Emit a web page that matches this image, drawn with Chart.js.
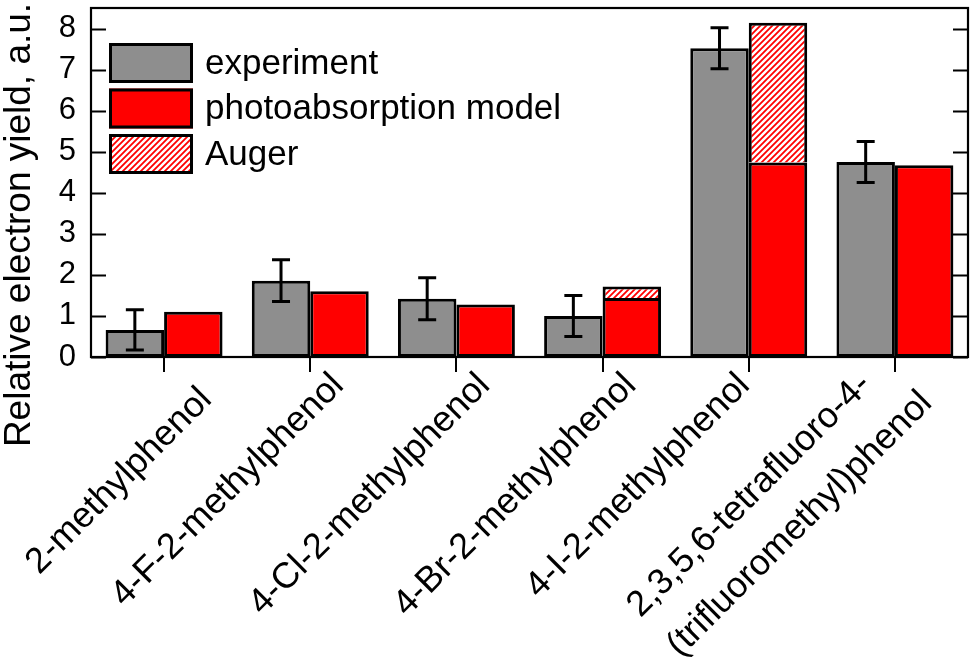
<!DOCTYPE html>
<html>
<head>
<meta charset="utf-8">
<script src="https://cdn.jsdelivr.net/npm/chart.js@4.4.0/dist/chart.umd.min.js"></script>
<style>
  html, body { margin: 0; padding: 0; background: #fff; }
  #wrap { width: 972px; height: 672px; position: relative; }
</style>
</head>
<body>
<div id="wrap"><canvas id="c" width="972" height="672"></canvas></div>
<script>
// Compounds (multi-line names are split into lines)
const compounds = [
  ['2-methylphenol'],
  ['4-F-2-methylphenol'],
  ['4-Cl-2-methylphenol'],
  ['4-Br-2-methylphenol'],
  ['4-I-2-methylphenol'],
  ['2,3,5,6-tetrafluoro-4-', '(trifluoromethyl)phenol']
];
// Relative electron yield, a.u.
const experiment      = [0.66, 1.86, 1.42, 1.00, 7.52, 4.75];
const experimentErr   = [0.49, 0.51, 0.51, 0.50, 0.50, 0.50];
const photoabsorption = [1.10, 1.60, 1.28, 1.44, 4.74, 4.67];
const auger           = [null, null, null, 0.28, 3.40, null];
const yTickValues     = [0, 1, 2, 3, 4, 5, 6, 7, 8];

const FONT = '"Liberation Sans", Arial, Helvetica, sans-serif';
const GREY = '#8e8e8e';
const RED = '#ff0000';

function makeHatch() {
  const p = document.createElement('canvas');
  p.width = 6; p.height = 6;
  const g = p.getContext('2d');
  g.fillStyle = '#ffffff';
  g.fillRect(0, 0, 6, 6);
  g.strokeStyle = RED;
  g.lineWidth = 1.8;
  g.beginPath();
  g.moveTo(-1, 7); g.lineTo(7, -1);
  g.moveTo(-1, 1); g.lineTo(1, -1);
  g.moveTo(5, 7); g.lineTo(7, 5);
  g.stroke();
  return g.createPattern(p, 'repeat');
}
const hatch = makeHatch();

// Frame, inward y ticks, error bars, legend, axis title and rotated compound names
const decorations = {
  id: 'decorations',
  afterDatasetsDraw(chart) {
    const { ctx, chartArea: a, scales } = chart;
    const y = scales.y;
    ctx.save();
    // error bars on the experiment bars
    const meta = chart.getDatasetMeta(0);
    ctx.strokeStyle = '#000';
    ctx.lineWidth = 3;
    meta.data.forEach((bar, i) => {
      const x = bar.x;
      const top = y.getPixelForValue(experiment[i] + experimentErr[i]);
      const bot = y.getPixelForValue(experiment[i] - experimentErr[i]);
      ctx.beginPath();
      ctx.moveTo(x, top); ctx.lineTo(x, bot);
      ctx.moveTo(x - 9, top); ctx.lineTo(x + 9, top);
      ctx.moveTo(x - 9, bot); ctx.lineTo(x + 9, bot);
      ctx.stroke();
    });
    // inward ticks on both vertical sides
    ctx.lineWidth = 2;
    yTickValues.forEach(v => {
      const py = Math.round(y.getPixelForValue(v)) + 0.5;
      ctx.beginPath();
      ctx.moveTo(a.left, py); ctx.lineTo(a.left + 15, py);
      ctx.moveTo(a.right, py); ctx.lineTo(a.right - 15, py);
      ctx.stroke();
    });
    // plot frame
    ctx.lineWidth = 2.2;
    ctx.strokeRect(a.left, a.top, a.right - a.left, a.bottom - a.top);
    ctx.restore();
  },
  afterDraw(chart) {
    const { ctx, chartArea: a, scales } = chart;
    const x = scales.x;
    ctx.save();
    // legend
    const items = chart.data.datasets;
    const boxX = a.left + 18, boxW = 84, boxH = 40, rowStep = 45.5;
    items.forEach((ds, i) => {
      const by = a.top + 35 + i * rowStep;
      ctx.fillStyle = ds.backgroundColor;
      ctx.fillRect(boxX, by, boxW, boxH);
      ctx.strokeStyle = '#000';
      ctx.lineWidth = 3;
      ctx.strokeRect(boxX + 1.5, by + 1.5, boxW - 3, boxH - 3);
      ctx.fillStyle = '#000';
      ctx.font = '35px ' + FONT;
      ctx.textAlign = 'left';
      ctx.textBaseline = 'middle';
      ctx.fillText(ds.label, boxX + boxW + 12, by + boxH / 2 + 1);
    });
    // y axis title
    ctx.save();
    ctx.translate(20, 225);
    ctx.rotate(-Math.PI / 2);
    ctx.font = '37px ' + FONT;
    ctx.fillStyle = '#000';
    ctx.textAlign = 'center';
    ctx.textBaseline = 'middle';
    ctx.fillText('Relative electron yield, a.u.', 0, 0);
    ctx.restore();
    // compound names, rotated 45 degrees, ending just right of each tick
    const nudge = [[0, 20], [0, 0], [0, 0], [0, 0], [-23, -23], [-10, 15]];
    const lineStep = 56;
    const c45 = Math.SQRT1_2;
    ctx.font = '36px ' + FONT;
    ctx.fillStyle = '#000';
    ctx.textAlign = 'left';
    ctx.textBaseline = 'alphabetic';
    compounds.forEach((lines, i) => {
      const tx = x.getPixelForValue(i);
      const [al, pe] = nudge[i];
      const ax = tx + 35 + al * c45 + pe * c45;
      const ay = a.bottom + 30 - al * c45 + pe * c45;
      const maxW = Math.max(...lines.map(l => ctx.measureText(l).width));
      ctx.save();
      ctx.translate(ax, ay);
      ctx.rotate(-Math.PI / 4);
      lines.forEach((l, j) => {
        ctx.fillText(l, -maxW, -(lines.length - 1 - j) * lineStep);
      });
      ctx.restore();
    });
    ctx.restore();
  }
};

const noPad = s => { s.paddingTop = 0; s.paddingBottom = 0; s.paddingLeft = 0; s.paddingRight = 0; };

new Chart(document.getElementById('c'), {
  type: 'bar',
  data: {
    labels: compounds.map(c => c.join(' ')),
    datasets: [
      {
        label: 'experiment', data: experiment, stack: 'exp',
        backgroundColor: GREY, borderColor: '#000', borderWidth: 3, borderSkipped: false
      },
      {
        label: 'photoabsorption model', data: photoabsorption, stack: 'model',
        backgroundColor: RED, borderColor: '#000', borderWidth: 3, borderSkipped: false
      },
      {
        label: 'Auger', data: auger, stack: 'model',
        backgroundColor: hatch, borderColor: '#000', borderWidth: 3, borderSkipped: 'bottom'
      }
    ]
  },
  options: {
    responsive: false,
    animation: false,
    devicePixelRatio: 1,
    layout: { padding: { top: 8, right: 4, left: 0, bottom: 0 } },
    datasets: { bar: { categoryPercentage: 0.8, barPercentage: 1.0 } },
    plugins: { legend: { display: false }, tooltip: { enabled: false } },
    scales: {
      x: {
        stacked: true,
        border: { display: false },
        grid: {
          display: true, drawOnChartArea: false, offset: false,
          drawTicks: true, tickLength: 15, tickWidth: 2, tickColor: '#000',
          lineWidth: 2, color: '#000'
        },
        ticks: { display: false },
        afterFit: s => { s.height = 315; noPad(s); }
      },
      y: {
        stacked: true,
        min: 0, max: 8.5,
        border: { display: false },
        grid: { display: false, drawTicks: false },
        ticks: {
          stepSize: 1, includeBounds: false, color: '#000', padding: 15,
          font: { family: FONT, size: 31 }
        },
        afterFit: s => { s.width = 91; noPad(s); }
      }
    }
  },
  plugins: [decorations]
});
</script>
</body>
</html>
